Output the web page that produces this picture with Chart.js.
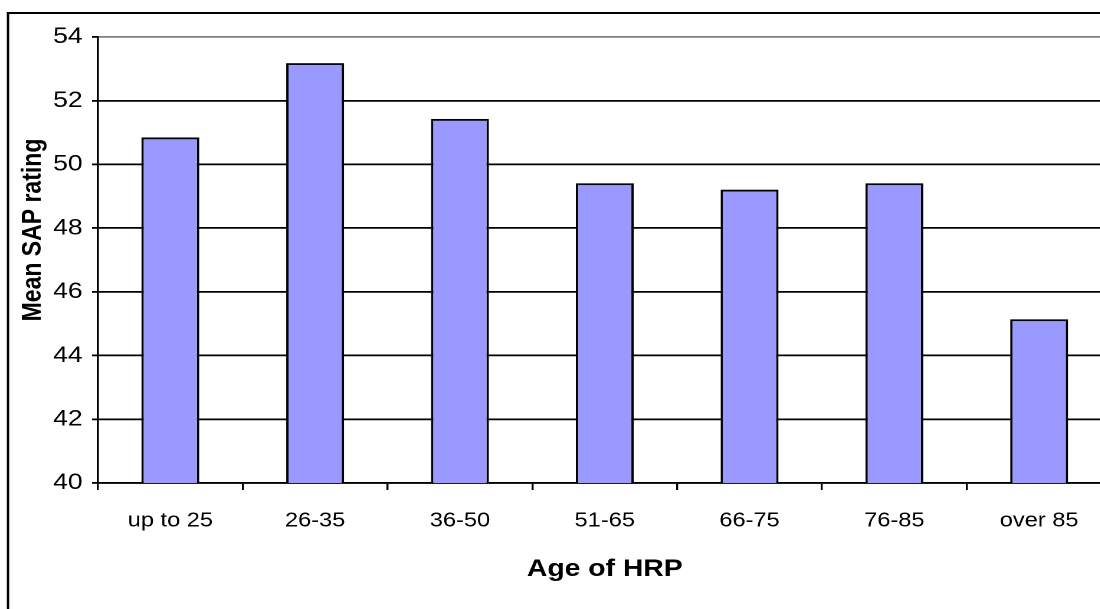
<!DOCTYPE html>
<html>
<head>
<meta charset="utf-8">
<title>Mean SAP rating by age of HRP</title>
<script src="https://cdn.jsdelivr.net/npm/chart.js@4.4.0/dist/chart.umd.min.js"></script>
<style>
  html, body { margin: 0; padding: 0; background: #fff; overflow: hidden; width: 1100px; height: 609px; }
  /* the original picture is stretched sideways, so the chart is too */
  #wrap { position: absolute; left: 0; top: 0; transform: scaleX(1.18); transform-origin: 0 0; }
  canvas { display: block; }
</style>
</head>
<body>
<div id="wrap"><canvas id="sapChart" width="960" height="609" style="width:960px;height:609px"></canvas></div>
<script>
// Данные графика
const ageGroups = ['up to 25', '26-35', '36-50', '51-65', '66-75', '76-85', 'over 85'];
const meanSap = [50.85, 53.18, 51.43, 49.41, 49.21, 49.41, 45.14];
const yTicks = [40, 42, 44, 46, 48, 50, 52, 54];
const xTitle = 'Age of HRP';
const yTitle = 'Mean SAP rating';

const STRETCH = 1.18;
const FONT = '"Liberation Sans", Arial, Helvetica, sans-serif';

Chart.defaults.color = '#000';
Chart.defaults.font.family = FONT;

// Рамка вокруг диаграммы и подпись оси Y
const framePlugin = {
  id: 'frame',
  beforeDraw(chart) {
    const ctx = chart.ctx;
    ctx.save();
    ctx.fillStyle = '#fff';
    ctx.fillRect(0, 0, chart.width, chart.height);
    ctx.strokeStyle = '#000';
    ctx.lineWidth = 2;
    ctx.strokeRect(8 / STRETCH, 13, chart.width + 40, chart.height + 40);
    ctx.restore();
  },
  afterDraw(chart) {
    const ctx = chart.ctx;
    const area = chart.chartArea;
    ctx.save();
    ctx.translate(28.4, area.top + (area.bottom - area.top) / 2 - 30);
    ctx.rotate(-Math.PI / 2);
    ctx.font = 'bold 23px ' + FONT;
    ctx.fillStyle = '#000';
    ctx.textAlign = 'center';
    ctx.textBaseline = 'middle';
    ctx.fillText(yTitle, 0, 0);
    ctx.restore();
  }
};

const ctx = document.getElementById('sapChart');

window.sapChart = new Chart(ctx, {
  type: 'bar',
  data: {
    labels: ageGroups,
    datasets: [{
      label: yTitle,
      data: meanSap,
      backgroundColor: '#9999FF',
      borderColor: '#000',
      borderWidth: 2,
      borderSkipped: false,
      categoryPercentage: 1,
      barPercentage: 0.4
    }]
  },
  options: {
    responsive: false,
    devicePixelRatio: 2,
    animation: false,
    layout: {
      padding: { top: 37, right: 18, bottom: 0, left: 0 }
    },
    plugins: {
      legend: { display: false },
      tooltip: { enabled: false }
    },
    scales: {
      x: {
        afterFit(scale) { scale.height = 126; },
        grid: {
          display: true,
          offset: true,
          drawOnChartArea: false,
          drawTicks: true,
          tickLength: 7,
          color: '#000',
          lineWidth: 1.7
        },
        border: { display: true, color: '#000', width: 1.8 },
        ticks: {
          padding: 19,
          maxRotation: 0,
          font: { size: 20 }
        },
        title: {
          display: true,
          text: xTitle,
          font: { size: 24, weight: 'bold' },
          padding: { top: 0, bottom: 25 }
        }
      },
      y: {
        min: yTicks[0],
        max: yTicks[yTicks.length - 1],
        afterFit(scale) { scale.width = 83; },
        grid: {
          color: (c) => (c.tick && c.tick.value === yTicks[yTicks.length - 1]) ? '#808080' : '#000',
          tickColor: '#000',
          lineWidth: 1.8,
          tickLength: 5
        },
        border: { display: true, color: '#000', width: 1.8 },
        ticks: {
          stepSize: yTicks[1] - yTicks[0],
          padding: 8,
          font: { size: 22.5 }
        }
      }
    }
  },
  plugins: [framePlugin]
});
</script>
</body>
</html>
